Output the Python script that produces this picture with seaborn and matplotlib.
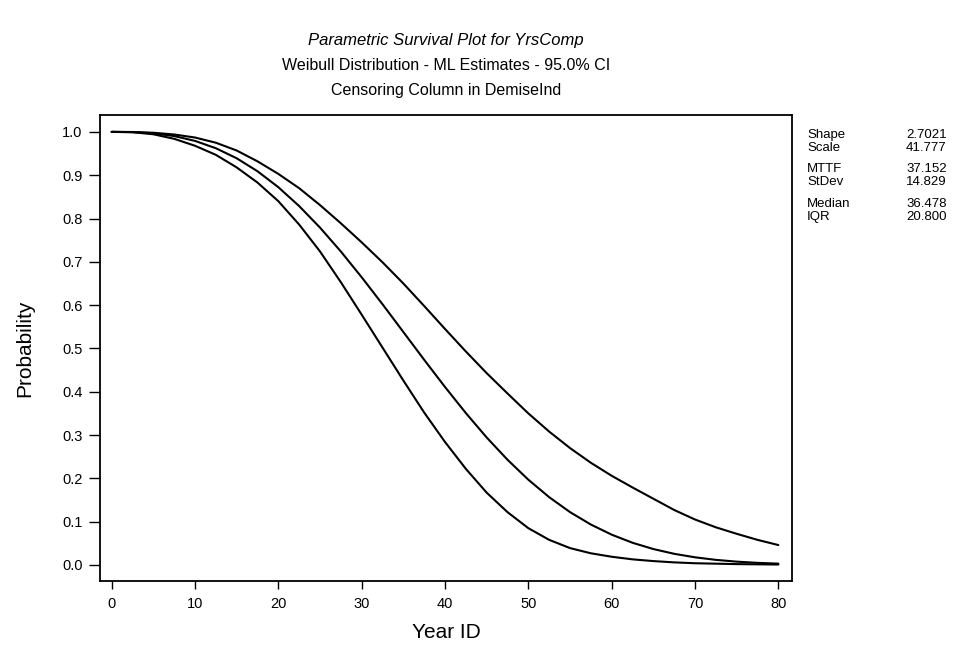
import matplotlib
matplotlib.use("Agg")
import matplotlib.pyplot as plt
import seaborn as sns
import pandas as pd

# ---- data ----
years = [0, 2.5, 5, 7.5, 10, 12.5, 15, 17.5, 20, 22.5, 25, 27.5, 30, 32.5, 35, 37.5,
         40, 42.5, 45, 47.5, 50, 52.5, 55, 57.5, 60, 62.5, 65, 67.5, 70, 72.5, 75, 77.5, 80]
upper = [1.0, 0.9998, 0.998, 0.994, 0.987, 0.975, 0.957, 0.932, 0.903, 0.870, 0.831,
         0.789, 0.745, 0.699, 0.650, 0.598, 0.545, 0.493, 0.443, 0.396, 0.350, 0.308,
         0.270, 0.236, 0.206, 0.179, 0.153, 0.127, 0.105, 0.087, 0.072, 0.058, 0.046]
estimate = [1.0, 0.9995, 0.9968, 0.9904, 0.9792, 0.9623, 0.9391, 0.9091, 0.8723, 0.8287,
            0.7790, 0.7239, 0.6644, 0.6021, 0.5380, 0.4738, 0.4110, 0.3508, 0.2944,
            0.2430, 0.1969, 0.1566, 0.1221, 0.0934, 0.0700, 0.0513, 0.0368, 0.0258,
            0.0177, 0.0118, 0.0077, 0.0049, 0.0031]
lower = [1.0, 0.9993, 0.9945, 0.984, 0.968, 0.947, 0.918, 0.883, 0.840, 0.786, 0.724,
         0.653, 0.578, 0.502, 0.426, 0.352, 0.284, 0.222, 0.167, 0.122, 0.085, 0.058,
         0.039, 0.027, 0.019, 0.013, 0.009, 0.006, 0.004, 0.003, 0.002, 0.0015, 0.001]

x_ticks = [0, 10, 20, 30, 40, 50, 60, 70, 80]
y_ticks = [0.0, 0.1, 0.2, 0.3, 0.4, 0.5, 0.6, 0.7, 0.8, 0.9, 1.0]

stat_names = ["Shape", "Scale", "MTTF", "StDev", "Median", "IQR"]
stat_values = ["2.7021", "41.777", "37.152", "14.829", "36.478", "20.800"]

title = "Parametric Survival Plot for YrsComp"
subtitle1 = "Weibull Distribution - ML Estimates - 95.0% CI"
subtitle2 = "Censoring Column in DemiseInd"

# ---- build long-form table ----
frames = []
for name, vals in [("upper", upper), ("estimate", estimate), ("lower", lower)]:
    frames.append(pd.DataFrame({"Year ID": years, "Probability": vals, "curve": name}))
df = pd.concat(frames, ignore_index=True)

sns.set_style("ticks")
plt.rcParams["font.family"] = ["Liberation Sans", "DejaVu Sans"]
plt.rcParams["text.color"] = "black"
plt.rcParams["axes.labelcolor"] = "black"

W, H = 964, 646
fig = plt.figure(figsize=(W / 100, H / 100), dpi=100)
fig.patch.set_facecolor("white")

def px(x, y):
    return x / W, 1 - y / H

left, right, top, bottom = 100, 792, 115, 581
ax = fig.add_axes([left / W, 1 - bottom / H, (right - left) / W, (bottom - top) / H])

sns.lineplot(data=df, x="Year ID", y="Probability", units="curve", estimator=None,
             color="black", linewidth=1.5, ax=ax, sort=False)

ax.set_xlim(-1.4, 81.64)
ax.set_ylim(-0.037, 1.039)
ax.set_xticks(x_ticks)
ax.set_xticklabels([str(t) for t in x_ticks])
ax.set_yticks(y_ticks)
ax.set_yticklabels([f"{t:.1f}" for t in y_ticks])
ax.tick_params(axis="x", direction="out", length=5.5, width=1.0, pad=6,
               labelsize=10.5, colors="black")
ax.tick_params(axis="y", direction="out", length=8, width=1.0, pad=4.5,
               labelsize=10.5, colors="black")
for s in ax.spines.values():
    s.set_visible(True)
    s.set_linewidth(1.3)
    s.set_color("black")
ax.set_xlabel("")
ax.set_ylabel("")
ax.grid(False)

fig.text(*px(446, 633), "Year ID", ha="center", va="center", fontsize=15, color="black")
fig.text(*px(25, 348), "Probability", ha="center", va="center", fontsize=15,
         rotation=90, color="black")

fig.text(*px(446, 40), title, ha="center", va="center", fontsize=12, style="italic",
         color="black")
fig.text(*px(446, 65), subtitle1, ha="center", va="center", fontsize=11.5, color="black")
fig.text(*px(446, 90), subtitle2, ha="center", va="center", fontsize=11.5, color="black")

stat_y = [135, 148, 169, 182, 204, 217]
for nm, val, yy in zip(stat_names, stat_values, stat_y):
    fig.text(*px(807, yy), nm, ha="left", va="center", fontsize=9.5, color="black")
    fig.text(*px(906, yy), val, ha="left", va="center", fontsize=9.5, color="black")

fig.savefig("out.png", dpi=100, facecolor="white")
